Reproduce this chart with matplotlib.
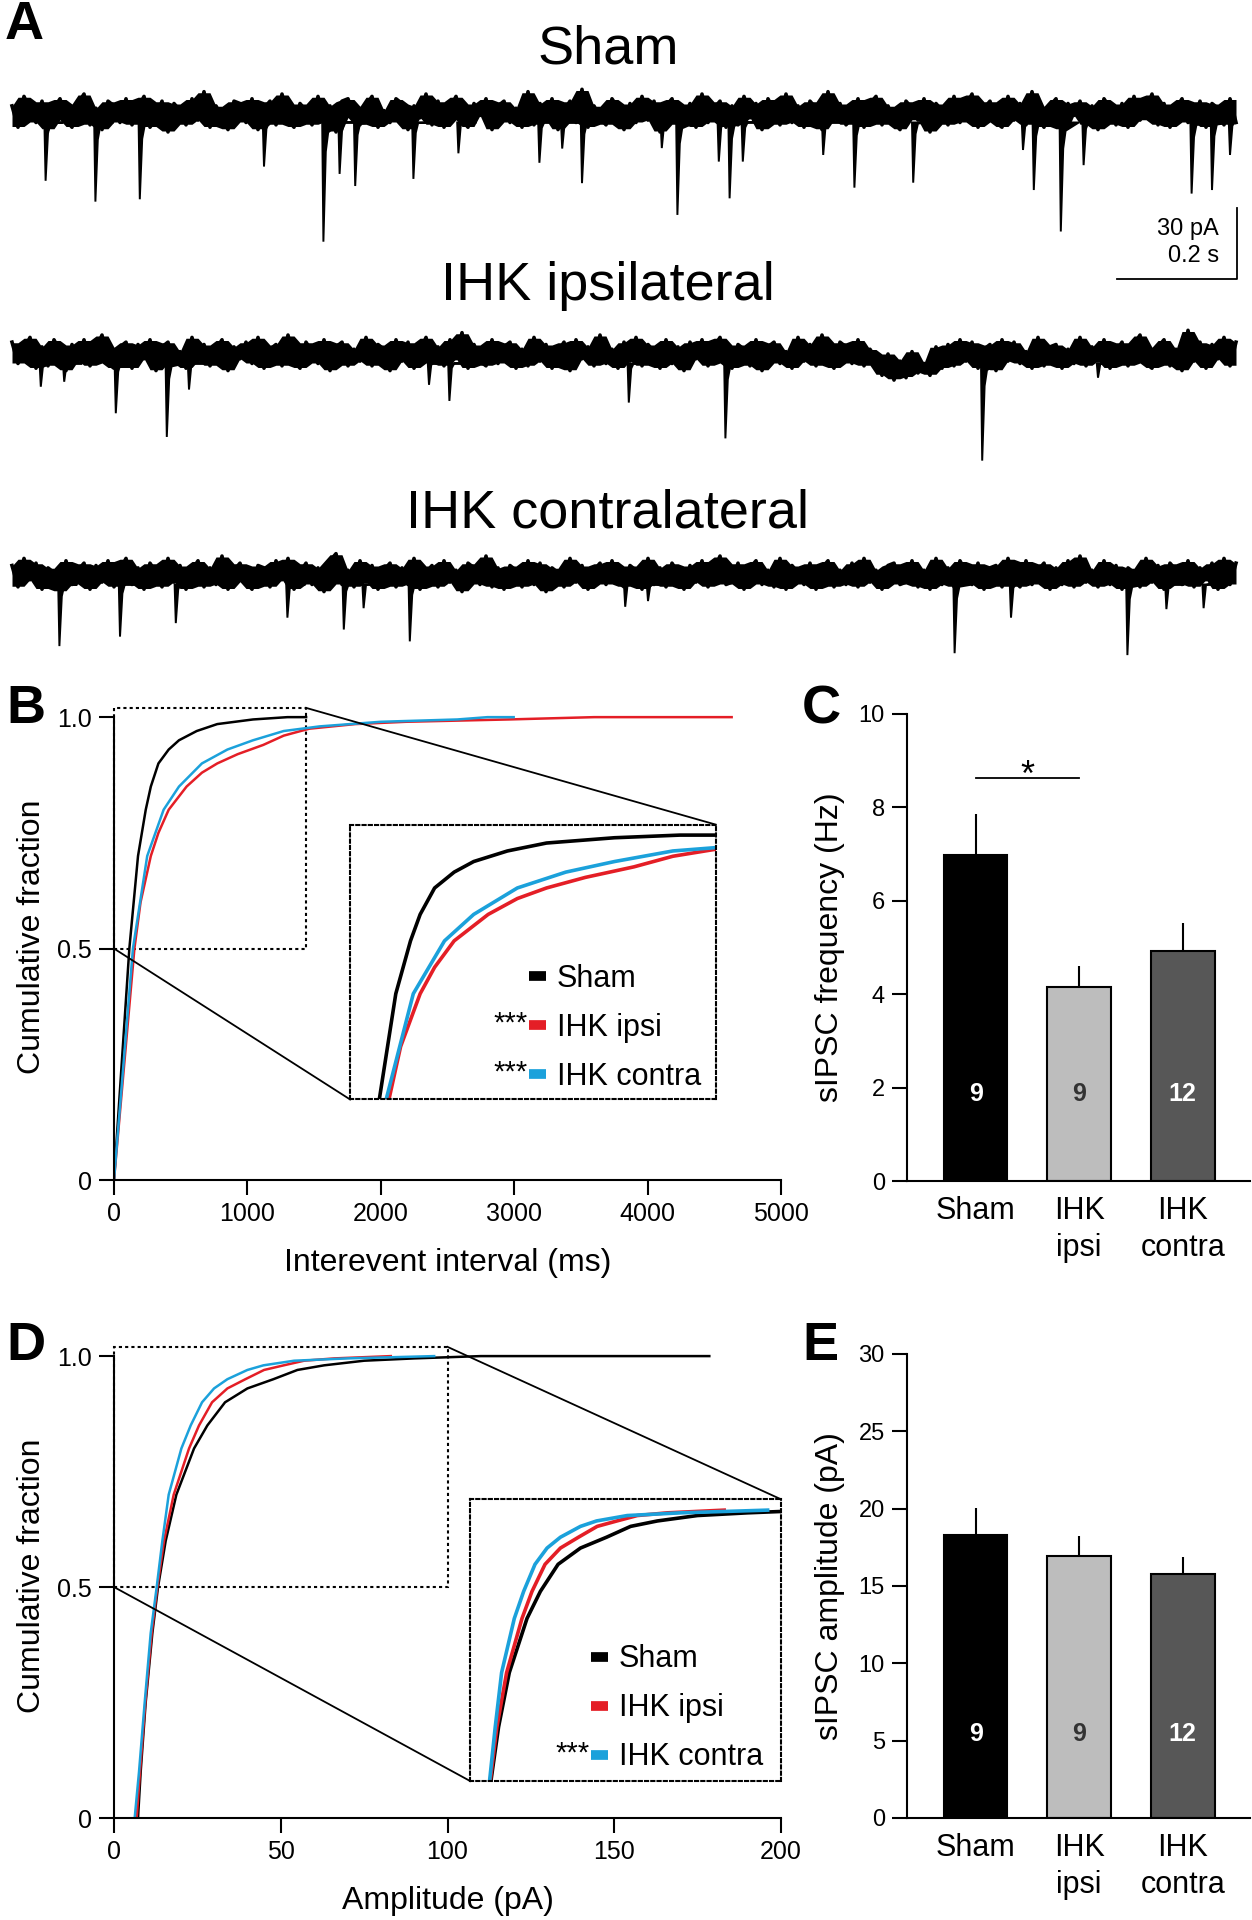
import numpy as np
import matplotlib
matplotlib.use("Agg")
import matplotlib.pyplot as plt
from matplotlib.lines import Line2D
from matplotlib.patches import Rectangle

plt.rcParams['font.family'] = ['Liberation Sans', 'DejaVu Sans']
NARROW = ['Liberation Sans Narrow', 'Liberation Sans', 'DejaVu Sans']

BLACK = '#000000'
RED = '#e41e26'
BLUE = '#1ba1db'
BAR_COLORS = ['#000000', '#bdbdbd', '#575757']
NUM_COLORS = ['white', '#333333', 'white']

# ---------------- panel A : example traces (pA, one sample every 10 ms) ----------------
SAMPLE_DT = 0.01
sham_trace = [
    3, -6, 7, 1, -4, 5, -7, 2, 6, -3, -6, 4, 8, -5, 2, -7, 5, 3, -4, 6,
    -5, 2, 7, -6, -2, 5, -8, 4, 1, -5, 6, -3, 9, -6, 3, -2, -7, 5, 4, -4,
    6, -7, 2, 5, -5, 8, -3, -6, 4, 1, -5, 7, -4, 3, -8, 5, 6, -2, -5, 3,
    7, -6, 1, -4, 6, 4, -7, 3, -2, 8, -5, 5, -6, 2, 7, -3, -6, 4, -1, 6,
    -7, 3, 5, -4, 2, -6, 9, -5, 4, -3, 6, -7, 1, 5, -4, 10, -6, 3, -2, -5,
    6, 2, -7, 4, -4, 7, -3, 5, -8, 3, 6, -5, -2, 4, -6, 8, -4, 2, 5, -6,
    3, -5, 7, -2, 4, -7, 6, 1, -5, 8, -4, 3, -6, 5, 2, -7, 9, -3, 4, -5,
    -2, 6, -6, 4, 7, -5, 3, -4, -7, 5, 2, -3, 6, -8, 4, 1, -5, 7, -4, 3,
    8, -6, 2, 5, -4, -6, 7, -3, 4, -5, 9, -2, -6, 3, 6, -7, 4, -1, 5, -5,
    3, -7, 6, 2, -5, 4, -6, 7, -3, 1, 8, -5, 4, -6, 2, 6, -4, -3, 5, -6,
    4, 2, -5, 6, -4]
sham_evt_t = [0.056, 0.139, 0.213, 0.42, 0.519, 0.546, 0.572, 0.669, 0.744, 0.879, 0.917, 0.95,
              1.083, 1.109, 1.178, 1.196, 1.218, 1.352, 1.404, 1.502, 1.685, 1.703, 1.748, 1.786,
              1.966, 2.0, 2.03]
sham_evt_a = [28.6, 37.4, 36.4, 22.6, 54.3, 25.7, 30.8, 27.8, 17, 21, 15, 29.6, 14.8, 43, 20.5,
              36, 20.5, 17.7, 31.5, 29.4, 15.6, 32.5, 50, 22, 34, 32.5, 17.7]

ipsi_trace = [
    5, -4, 2, 7, -6, 3, -5, 6, 1, -7, 4, -3, 6, -5, 2, 8, -4, -6, 3, 5,
    -6, 4, -2, 6, -7, 3, 5, -4, 1, -6, 7, -3, 4, -5, 2, 6, -7, 3, -2, 5,
    -4, 7, -6, 2, 4, -5, 8, -3, -6, 5, 1, -4, 6, -7, 3, 5, -5, 2, -3, 7,
    -5, 4, 2, -7, 6, -3, 5, -6, 1, 7, -4, 3, -5, 6, -2, 9, -6, 4, -3, -5,
    6, -4, 3, 5, -6, 2, -5, 7, -3, 4, -6, 1, 5, -7, 6, -2, 3, -5, 8, -4,
    2, -6, 5, -3, 7, -5, 4, 1, -6, 6, -4, 3, -7, 5, -2, 6, -5, 3, 7, -4,
    -6, 4, 2, -5, 6, -7, 3, 5, -4, 1, -6, 7, -3, 4, -5, 8, -2, -6, 5, 3,
    -4, 6, -5, 2, -2, -9, 0, -11, -3, -10, 1, -8, -4, -9, 3, -6, 4, -5, 6, -3,
    5, -6, 2, 4, -7, 6, -3, 5, -4, 1, -6, 7, -5, 3, 4, -6, 2, -4, 7, -5,
    3, -3, 6, -6, 1, 5, -5, 4, 8, -4, -6, 3, 6, -5, 2, -7, 10, -3, 5, -6,
    4, -2, 7, -5, 5]
ipsi_evt_t = [0.048, 0.087, 0.173, 0.258, 0.295, 0.695, 0.729, 1.028, 1.189, 1.617, 1.81]
ipsi_evt_a = [13.8, 11.7, 25, 35, 15, 13, 19.8, 20.5, 35.6, 45, 10]

contra_trace = [
    4, -5, 7, -2, 5, -6, 3, 1, -7, 6, -4, 2, 5, -6, 4, -3, 6, -5, 2, 7,
    -4, 3, -6, 5, 1, -5, 7, -3, 4, -6, 2, 6, -5, 3, -4, 8, -6, 2, 5, -3,
    -6, 4, 3, -5, 6, -2, 7, -6, 1, 5, -4, 3, -7, 6, 9, -4, 2, -5, 6, -3,
    4, -6, 2, 5, -5, 3, -4, 7, -6, 1, 4, -5, 6, -3, 2, -7, 5, 3, -4, 8,
    -5, 3, -6, 4, 2, -5, 6, -4, 5, -7, 3, 1, -5, 7, -3, 4, -6, 2, 5, -4,
    6, -3, -5, 4, 2, -6, 7, -4, 3, -5, 5, 1, -6, 4, -3, 6, -5, 2, 8, -4,
    -3, 5, -6, 3, 6, -4, 2, -5, 7, -6, 4, 1, -4, 5, -6, 3, 6, -5, 2, -4,
    5, -5, 7, -3, 2, -6, 4, 5, -4, -3, 6, -5, 2, -6, 7, -4, 3, -5, 6, 1,
    -4, 5, -6, 3, 4, -5, 7, -2, -5, 6, -4, 2, 5, -6, 3, -4, 6, -5, 8, -3,
    2, -5, 6, -4, 4, -6, 3, 1, -5, 7, -3, 4, -6, 5, 2, -4, 6, -5, 3, -2,
    5, -6, 7, -4, 5]
contra_evt_t = [0.079, 0.18, 0.273, 0.459, 0.553, 0.586, 0.663, 1.022, 1.06, 1.571, 1.665,
                1.859, 1.924, 1.986]
contra_evt_a = [30, 26, 20.3, 18, 23, 14, 28, 13.4, 11, 33, 18, 33.8, 14.4, 14]

trace_titles = ['Sham', 'IHK ipsilateral', 'IHK contralateral']
scale_t, scale_pA = 0.2, 30

# ---------------- panel B : interevent interval CDF ----------------
iei_sham_x = [0, 115, 180, 238, 276, 333, 410, 487, 620, 774, 1042, 1300, 1440]
iei_sham_y = [0, 0.5, 0.7, 0.8, 0.85, 0.9, 0.93, 0.95, 0.97, 0.985, 0.995, 1.0, 1.0]
iei_ipsi_x = [0, 153, 199, 276, 333, 410, 544, 659, 774, 927, 1119, 1272, 1463, 1808, 2191,
              2958, 3600, 4630]
iei_ipsi_y = [0, 0.5, 0.6, 0.7, 0.75, 0.8, 0.85, 0.88, 0.9, 0.92, 0.94, 0.96, 0.975, 0.985,
              0.99, 0.995, 1.0, 1.0]
iei_contra_x = [0, 142, 249, 372, 487, 659, 850, 1042, 1272, 1540, 2000, 2574, 2800, 2996]
iei_contra_y = [0, 0.5, 0.7, 0.8, 0.85, 0.9, 0.93, 0.95, 0.97, 0.98, 0.99, 0.995, 1.0, 1.0]

# ---------------- panel D : amplitude CDF ----------------
amp_sham_x = [7.2, 8.0, 9.5, 11.5, 13.2, 15.5, 18.7, 24, 28, 33.3, 40, 47.8, 55, 63, 75, 90,
              110, 178.5]
amp_sham_y = [0, 0.1, 0.25, 0.4, 0.5, 0.6, 0.7, 0.8, 0.85, 0.9, 0.93, 0.95, 0.97, 0.98, 0.99,
              0.995, 1.0, 1.0]
amp_ipsi_x = [6.8, 7.8, 9.4, 11.3, 13, 15, 17.9, 22.5, 25.5, 29.4, 34, 39.4, 45, 50.9, 57, 66, 83]
amp_ipsi_y = [0, 0.1, 0.25, 0.4, 0.5, 0.6, 0.7, 0.8, 0.85, 0.9, 0.93, 0.95, 0.97, 0.98, 0.99,
              0.995, 1.0]
amp_contra_x = [6.2, 7.5, 9.2, 11, 12.8, 14.5, 16.4, 20.2, 23, 26.4, 30, 34, 40, 44.8, 54, 70, 96]
amp_contra_y = [0, 0.1, 0.25, 0.4, 0.5, 0.6, 0.7, 0.8, 0.85, 0.9, 0.93, 0.95, 0.97, 0.98, 0.99,
                0.995, 1.0]

legend_labels = ['Sham', 'IHK ipsi', 'IHK contra']
iei_stars = ['', '***', '***']
amp_stars = ['', '', '***']

# ---------------- panels C / E : bar charts ----------------
groups = ['Sham', 'IHK\nipsi', 'IHK\ncontra']
n_cells = [9, 9, 12]
freq_mean = [6.99, 4.15, 4.93]
freq_sem = [0.86, 0.46, 0.60]
amp_mean = [18.3, 16.95, 15.75]
amp_sem = [1.75, 1.3, 1.15]

# ---------------------------------------------------------------------
W, H = 1252, 1920
fig = plt.figure(figsize=(W / 100, H / 100), dpi=100)


def px_axes(left, top, right, bottom):
    return fig.add_axes([left / W, 1 - bottom / H, (right - left) / W, (bottom - top) / H])


SPIKE_DX = np.array([-0.002, 0.0, 0.004, 0.008, 0.03])
SPIKE_SHAPE = np.array([0.0, 1.0, 0.3, 0.15, 0.0])


def draw_trace(ax, y, ev_t, ev_a):
    y = np.asarray(y, dtype=float)
    t = np.arange(len(y)) * SAMPLE_DT
    # solid core of the noise band: local min / max of neighbouring samples
    p = np.pad(y, 1, mode='edge')
    lo = np.minimum(np.minimum(p[:-2], p[1:-1]), p[2:])
    hi = np.maximum(np.maximum(p[:-2], p[1:-1]), p[2:])
    ax.fill_between(t, 0.95 * lo, 0.95 * hi, color='k', lw=0)
    ax.plot(t, y, color='k', lw=2.6)
    for tt, a in zip(ev_t, ev_a):
        ax.fill(np.minimum(tt + SPIKE_DX, t[-1]), -np.maximum(a * SPIKE_SHAPE, 4),
                color='k', lw=1.4)


# trace axes: 600 px per second, 2.37 px per pA
trace_boxes = [(60, 290, 113), (300, 475, 354), (520, 665, 575)]
trace_data = [(sham_trace, sham_evt_t, sham_evt_a),
              (ipsi_trace, ipsi_evt_t, ipsi_evt_a),
              (contra_trace, contra_evt_t, contra_evt_a)]
title_y = [49, 286, 513]
trace_axes = []
for (top, bot, base), data, title, ty in zip(trace_boxes, trace_data, trace_titles, title_y):
    ax = px_axes(0, top, W, bot)
    draw_trace(ax, *data)
    ax.set_xlim(-12 / 600, (W - 12) / 600)
    ax.set_ylim(-(bot - base) / 2.37, (base - top) / 2.37)
    ax.axis('off')
    fig.text(608 / W, 1 - ty / H, title, ha='center', va='center', fontsize=39)
    trace_axes.append(ax)

# scale bar on the Sham trace
axS = trace_axes[0]
corner_t = (1237 - 12) / 600
corner_y = -(279 - 113) / 2.37
axS.plot([corner_t - scale_t, corner_t, corner_t],
         [corner_y, corner_y, corner_y + scale_pA], color='k', lw=1.3, clip_on=False)
axS.text(corner_t - 0.03, corner_y + 21, f'{scale_pA} pA', ha='right', va='center', fontsize=17)
axS.text(corner_t - 0.03, corner_y + 9.5, f'{scale_t} s', ha='right', va='center', fontsize=17)


def style_cdf(ax, xmax, xticks, xlabel):
    ax.set_xlim(0, xmax)
    ax.set_ylim(0, 1.05)
    for s in ['top', 'right']:
        ax.spines[s].set_visible(False)
    for s in ['left', 'bottom']:
        ax.spines[s].set_linewidth(1.5)
    ax.spines['left'].set_bounds(0, 1)
    ax.set_xticks(xticks)
    ax.set_yticks([0, 0.5, 1.0])
    ax.set_yticklabels(['0', '0.5', '1.0'])
    ax.tick_params(direction='out', length=11, width=1.5, labelsize=18, pad=5)
    for lbl in ax.get_xticklabels() + ax.get_yticklabels():
        lbl.set_family(NARROW)
    ax.set_xlabel(xlabel, fontsize=23, family=NARROW, labelpad=16)
    ax.set_ylabel('Cumulative fraction', fontsize=23, family=NARROW, labelpad=7)


def zoom_inset(ax, box, inset, inset_xlim, curves, stars, leg_anchor):
    bx, by0, bw, bh = box
    ix, iy, iw, ih = inset
    ax.add_patch(Rectangle((bx, by0), bw, bh, fill=False, lw=1.5, ls=(0, (1.5, 1.5)),
                           clip_on=False))
    ax.plot([bx + bw, ix + iw], [by0 + bh, iy + ih], color='k', lw=1.3, clip_on=False)
    ax.plot([bx, ix], [by0, iy], color='k', lw=1.3, clip_on=False)
    axi = ax.inset_axes([ix, iy, iw, ih], transform=ax.transData)
    for x, y, c in curves:
        axi.plot(x, y, color=c, lw=2.6)
    axi.set_xlim(*inset_xlim)
    axi.set_ylim(by0, by0 + bh)
    axi.set_xticks([])
    axi.set_yticks([])
    axi.patch.set_alpha(0)
    for s in axi.spines.values():
        s.set_linestyle((0, (1.5, 1.5)))
        s.set_linewidth(1.5)
    handles = [Line2D([], [], color=c, lw=7, solid_capstyle='butt') for _, _, c in curves]
    leg = axi.legend(handles, legend_labels, loc='lower left', bbox_to_anchor=leg_anchor,
                     frameon=False, handlelength=0.55, handletextpad=0.35, fontsize=22,
                     labelspacing=0.62, borderaxespad=0, borderpad=0)
    for t in leg.get_texts():
        t.set_family(NARROW)
    fig.canvas.draw()
    inv = axi.transAxes.inverted()
    for st, hnd in zip(stars, leg.legend_handles):
        if st:
            bb = hnd.get_window_extent()
            x0, yc = inv.transform((bb.x0, (bb.y0 + bb.y1) / 2))
            axi.text(x0 - 0.005, yc + 0.005, st, transform=axi.transAxes, ha='right',
                     va='center', fontsize=21, family=NARROW)
    return axi


# ---------------- panel B ----------------
axB = px_axes(114, 694, 781, 1180)
iei_curves = [(iei_sham_x, iei_sham_y, BLACK), (iei_ipsi_x, iei_ipsi_y, RED),
              (iei_contra_x, iei_contra_y, BLUE)]
for x, y, c in iei_curves:
    axB.plot(x, y, color=c, lw=1.8)
style_cdf(axB, 5000, [0, 1000, 2000, 3000, 4000, 5000], 'Interevent interval (ms)')
zoom_inset(axB, (0, 0.5, 1440, 0.52), (1770, 0.174, 2739, 0.594), (0, 1440), iei_curves,
           iei_stars, (0.49, 0.027))

# ---------------- panel D ----------------
axD = px_axes(114, 1333, 781, 1818)
amp_curves = [(amp_sham_x, amp_sham_y, BLACK), (amp_ipsi_x, amp_ipsi_y, RED),
              (amp_contra_x, amp_contra_y, BLUE)]
for x, y, c in amp_curves:
    axD.plot(x, y, color=c, lw=1.8)
style_cdf(axD, 200, [0, 50, 100, 150, 200], 'Amplitude (pA)')
zoom_inset(axD, (0, 0.5, 100, 0.52), (106.8, 0.08, 93.2, 0.61), (7, 100), amp_curves,
           amp_stars, (0.39, 0.031))


# ---------------- bar panels ----------------
def bar_panel(ax, mean, sem, yticks, ylabel, num_y):
    x = np.arange(len(mean))
    ax.bar(x, mean, width=0.615, color=BAR_COLORS, edgecolor='k', lw=1.5, zorder=2)
    ax.errorbar(x, mean, yerr=[np.zeros(len(sem)), sem], fmt='none', ecolor='k',
                elinewidth=1.5, capsize=0, zorder=1)
    for xi, n, c in zip(x, n_cells, NUM_COLORS):
        ax.text(xi, num_y, str(n), ha='center', va='center', color=c, fontsize=18,
                fontweight='bold', zorder=3)
    ax.set_xlim(-0.663, 2.65)
    ax.set_ylim(yticks[0], yticks[-1])
    ax.set_yticks(yticks)
    ax.set_xticks(x)
    ax.set_xticklabels(groups, fontsize=22, linespacing=1.3)
    ax.tick_params(axis='x', length=0, pad=11)
    ax.tick_params(axis='y', direction='out', length=11, width=1.5, labelsize=17, pad=5)
    for s in ['top', 'right']:
        ax.spines[s].set_visible(False)
    for s in ['left', 'bottom']:
        ax.spines[s].set_linewidth(1.5)
    ax.set_ylabel(ylabel, fontsize=23, labelpad=10)


axC = px_axes(907, 714, 1250, 1181)
bar_panel(axC, freq_mean, freq_sem, [0, 2, 4, 6, 8, 10], 'sIPSC frequency (Hz)', 1.86)
axC.plot([0, 1], [8.63, 8.63], color='k', lw=1.3)
axC.text(0.5, 8.45, '*', ha='center', va='baseline', fontsize=26)

axE = px_axes(907, 1354, 1250, 1818)
bar_panel(axE, amp_mean, amp_sem, [0, 5, 10, 15, 20, 25, 30], 'sIPSC amplitude (pA)', 5.46)

# panel letters
for letter, (lx, ly) in {'A': (5, 0), 'B': (6, 684), 'C': (802, 684),
                         'D': (6, 1321), 'E': (802, 1321)}.items():
    fig.text(lx / W, 1 - ly / H, letter, ha='left', va='top', fontsize=39, fontweight='bold')

fig.savefig('out.png', dpi=100)
